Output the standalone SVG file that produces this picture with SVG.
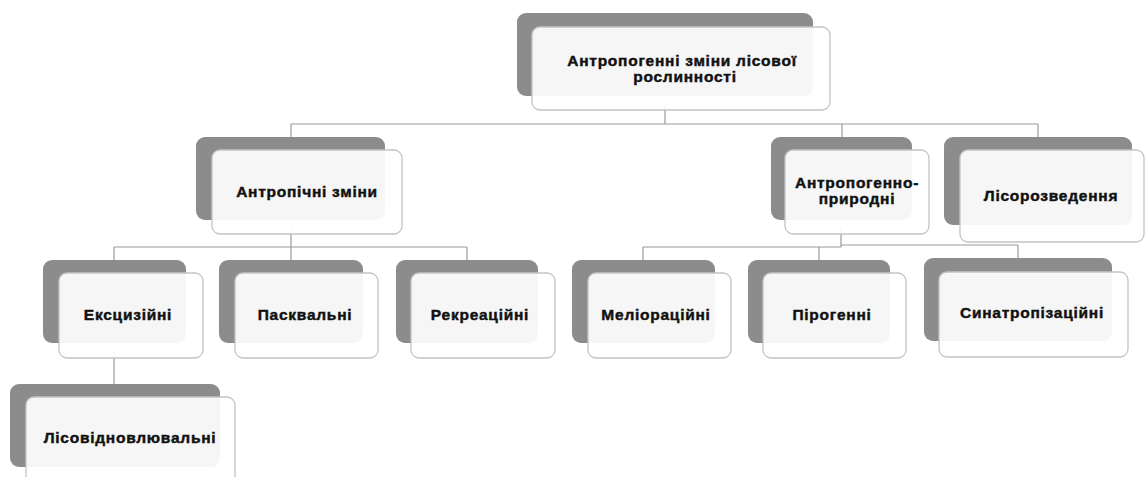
<svg xmlns="http://www.w3.org/2000/svg" width="1147" height="477" viewBox="0 0 1147 477">
<style>
.bk{fill:#8c8c8c}
.fr{fill:#ffffff;fill-opacity:0.92;stroke:#c4c4c4;stroke-width:1.3}
.t{font-family:"Liberation Sans",Arial,sans-serif;font-weight:bold;font-size:15.5px;letter-spacing:0.75px;fill:#111;stroke:#111;stroke-width:0.45px;text-anchor:middle}
.c{fill:none;stroke:#9a9a9a;stroke-width:1.2}
</style>
<rect width="1147" height="477" fill="#ffffff"/>
<g id="connectors">
<path class="c" d="M665,104 V124 M291,124 H1038 M291,124 V137 M842,124 V137 M1038,124 V137"/>
<path class="c" d="M291,228 V247 M114,247 H467 M114,247 V260 M291,247 V260 M467,247 V260"/>
<path class="c" d="M841,228 V247 M643,247 H841 M841,245 H1018 M643,247 V260 M819,247 V260 M1018,245 V258"/>
<path class="c" d="M114,352 V384"/>
</g>
<g id="n-root">
<rect class="bk" x="517" y="13" width="296" height="83" rx="9"/>
<rect class="fr" x="532" y="27" width="298" height="83" rx="8"/>
<text class="t" x="682" y="66">Антропогенні зміни лісової</text>
<text class="t" x="685" y="82">рослинності</text>
</g>
<g id="n-antropichni">
<rect class="bk" x="196" y="137" width="189" height="83" rx="9"/>
<rect class="fr" x="212" y="150" width="190" height="84" rx="8"/>
<text class="t" x="307" y="197">Антропічні зміни</text>
</g>
<g id="n-antropogenno">
<rect class="bk" x="771" y="137" width="141" height="83" rx="9"/>
<rect class="fr" x="785" y="150" width="144" height="84" rx="8"/>
<text class="t" x="857" y="188">Антропогенно-</text>
<text class="t" x="857" y="204">природні</text>
</g>
<g id="n-lisorozvedennia">
<rect class="bk" x="944" y="137" width="188" height="88" rx="9"/>
<rect class="fr" x="960" y="150" width="184" height="92" rx="8"/>
<text class="t" x="1051" y="201">Лісорозведення</text>
</g>
<g id="n-ekscyziini">
<rect class="bk" x="43" y="260" width="143" height="83" rx="9"/>
<rect class="fr" x="59" y="273" width="144" height="85" rx="8"/>
<text class="t" x="128" y="320">Ексцизійні</text>
</g>
<g id="n-paskvalni">
<rect class="bk" x="219" y="260" width="144" height="83" rx="9"/>
<rect class="fr" x="235" y="273" width="143" height="85" rx="8"/>
<text class="t" x="305" y="320">Пасквальні</text>
</g>
<g id="n-rekreatsiini">
<rect class="bk" x="396" y="260" width="142" height="83" rx="9"/>
<rect class="fr" x="411" y="273" width="144" height="85" rx="8"/>
<text class="t" x="480" y="320">Рекреаційні</text>
</g>
<g id="n-melioratsiini">
<rect class="bk" x="572" y="260" width="143" height="83" rx="9"/>
<rect class="fr" x="588" y="273" width="143" height="85" rx="8"/>
<text class="t" x="656" y="320">Меліораційні</text>
</g>
<g id="n-pirohenni">
<rect class="bk" x="748" y="260" width="142" height="83" rx="9"/>
<rect class="fr" x="763" y="273" width="143" height="85" rx="8"/>
<text class="t" x="832" y="320">Пірогенні</text>
</g>
<g id="n-synatropizatsiini">
<rect class="bk" x="924" y="258" width="188" height="83" rx="9"/>
<rect class="fr" x="939" y="272" width="189" height="85" rx="8"/>
<text class="t" x="1032" y="318">Синатропізаційні</text>
</g>
<g id="n-lisovidnovliuvalni">
<rect class="bk" x="10" y="384" width="210" height="83" rx="9"/>
<rect class="fr" x="26" y="397" width="209" height="92" rx="8"/>
<text class="t" x="130" y="443">Лісовідновлювальні</text>
</g>
</svg>
